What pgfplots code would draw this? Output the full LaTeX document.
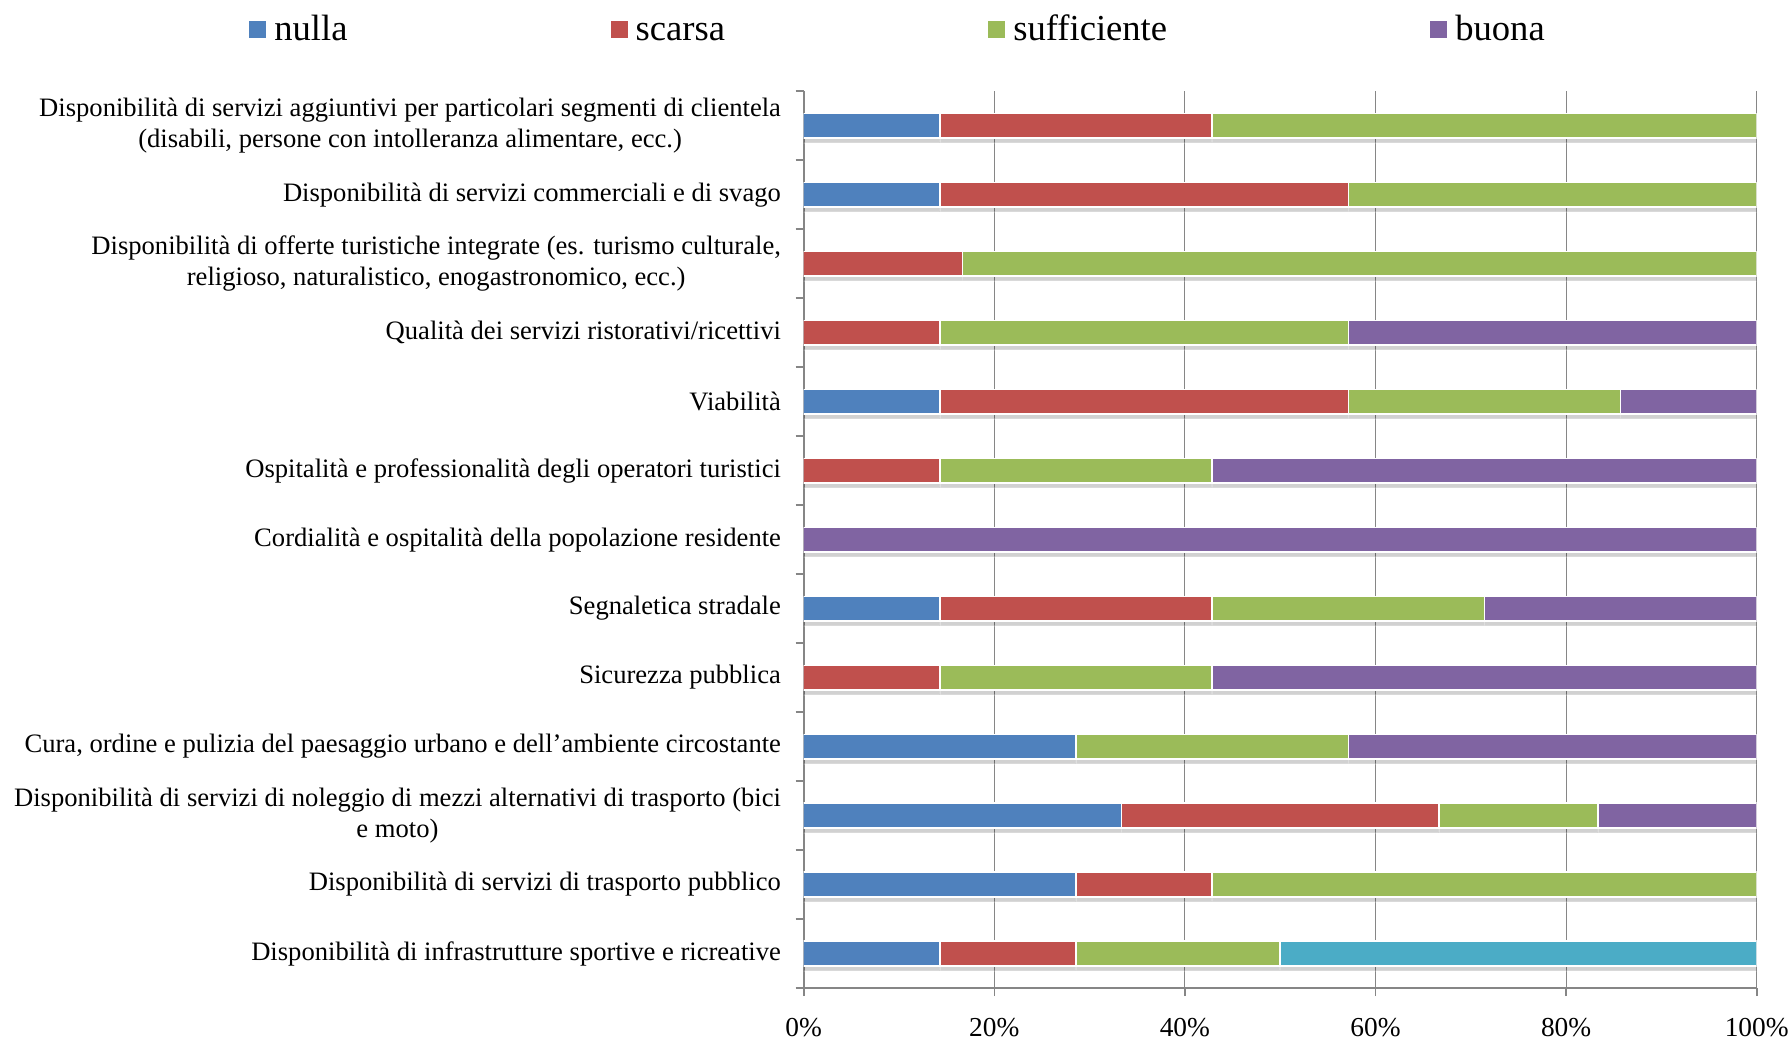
\documentclass[border=0pt]{standalone}
\usepackage{pgfplots}
\pgfplotsset{compat=1.18}
\usepackage{pgfplotstable}
\usepackage{fontspec}
\setmainfont{Liberation Serif}
\usetikzlibrary{shadows}
\definecolor{cblue}{HTML}{4F81BD}
\definecolor{cred}{HTML}{C0504D}
\definecolor{cgreen}{HTML}{9BBB59}
\definecolor{cpurple}{HTML}{8064A2}
\definecolor{ccyan}{HTML}{4BACC6}
\definecolor{axgray}{HTML}{868686}
\tikzset{barshadow/.style={drop shadow={shadow xshift=0pt, shadow yshift=-2.5pt, opacity=0.18, fill=black}}}
\pgfplotstableread{
y a b c d e
0 14.29 28.57 57.14 0 0
1 14.29 42.86 42.85 0 0
2 0 16.67 83.33 0 0
3 0 14.29 42.86 42.85 0
4 14.29 42.86 28.57 14.28 0
5 0 14.29 28.57 57.14 0
6 0 0 0 100 0
7 14.29 28.57 28.57 28.57 0
8 0 14.29 28.57 57.14 0
9 28.57 0 28.57 42.86 0
10 33.33 33.33 16.67 16.67 0
11 28.57 14.29 57.14 0 0
12 14.29 14.29 21.42 0 50
}\data
\begin{document}
\begin{tikzpicture}
\useasboundingbox (0,0) rectangle (896pt,519pt);
\begin{axis}[
 at={(401.85pt,25pt)}, anchor=south west,
 scale only axis, width=476.5pt, height=448.4pt,
 xbar stacked, bar width=12.3pt,
 xmin=0, xmax=100, ymin=-0.5, ymax=12.5, y dir=reverse,
 axis lines*=left,
 axis line style={draw=axgray, line width=0.8pt},
 xtick={0,20,...,100},
 xticklabel={\pgfmathprintnumber{\tick}\%},
 /pgf/number format/assume math mode=true,
 xmajorgrids, major grid style={draw=axgray, line width=0.5pt},
 tick align=outside, major tick length=4pt,
 x tick style={draw=axgray, line width=0.8pt},
 xticklabel style={font=\fontsize{13.7}{15}\selectfont, anchor=base, inner sep=0pt, yshift=-20pt},
 ytick={-0.5,0.5,...,12.5}, yticklabels={},
 y tick style={draw=axgray, line width=0.8pt},
 extra y ticks={0,1,...,12},
 extra y tick style={major tick length=0pt, tick style={draw=none}, yticklabel style={font=\fontsize{13.3}{15.5}\selectfont, align=center, anchor=east, inner sep=0pt, xshift=-11.2pt}},
 extra y tick labels={
  {Disponibilità di servizi aggiuntivi per particolari segmenti di clientela\\(disabili, persone con intolleranza alimentare, ecc.)},
  {Disponibilità di servizi commerciali e di svago},
  {Disponibilità di offerte turistiche integrate (es. turismo culturale,\\religioso, naturalistico, enogastronomico, ecc.)},
  {Qualità dei servizi ristorativi/ricettivi},
  {Viabilità},
  {Ospitalità e professionalità degli operatori turistici},
  {Cordialità e ospitalità della popolazione residente},
  {Segnaletica stradale},
  {Sicurezza pubblica},
  {Cura, ordine e pulizia del paesaggio urbano e dell’ambiente circostante},
  {Disponibilità di servizi di noleggio di mezzi alternativi di trasporto (bici\\e moto)},
  {Disponibilità di servizi di trasporto pubblico},
  {Disponibilità di infrastrutture sportive e ricreative}},
 legend columns=4,
 legend image code/.code={\fill[#1] (0pt,-4.25pt) rectangle (8.5pt,4.25pt);},
 legend style={draw=none, fill=none, inner sep=0pt, at={(-0.5821,1.0683)}, anchor=west,
   font=\fontsize{18.3}{20}\selectfont,
   nodes={inner xsep=4pt, inner ysep=0pt},
   /tikz/every even column/.append style={column sep=127.6pt, text height=12pt, text depth=4pt}},
 every axis plot/.append style={draw=white, line width=0.75pt},
]
\addplot[fill=cblue, barshadow, forget plot] table[x=a, y=y]{\data};
\addplot[fill=cred, barshadow, forget plot] table[x=b, y=y]{\data};
\addplot[fill=cgreen, barshadow, forget plot] table[x=c, y=y]{\data};
\addplot[fill=cpurple, barshadow, forget plot] table[x=d, y=y]{\data};
\addplot[fill=ccyan, barshadow, forget plot] table[x=e, y=y]{\data};
\addlegendimage{fill=cblue, draw=none}
\addlegendentry{nulla}
\addlegendimage{fill=cred, draw=none}
\addlegendentry{scarsa}
\addlegendimage{fill=cgreen, draw=none}
\addlegendentry{sufficiente}
\addlegendimage{fill=cpurple, draw=none}
\addlegendentry{buona}
\draw[axgray, line width=0.8pt] (axis cs:0,-0.5) -- (axis cs:0,12.5);
\end{axis}
\end{tikzpicture}
\end{document}
